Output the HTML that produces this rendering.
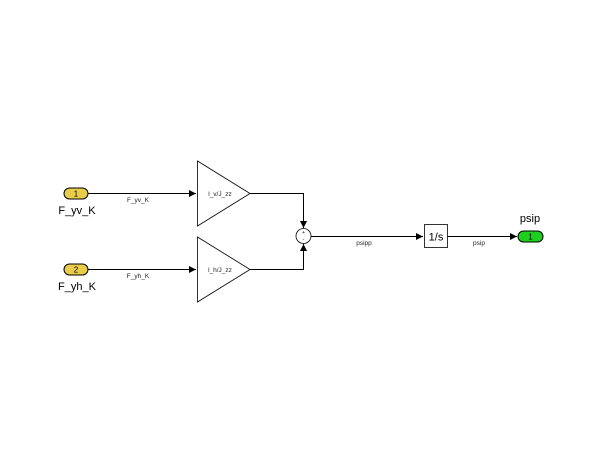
<!DOCTYPE html>
<html><head><style>body{margin:0;background:#fff}svg{display:block}</style></head><body>
<svg width="600" height="464" viewBox="0 0 600 464" xmlns="http://www.w3.org/2000/svg" font-family="Liberation Sans, sans-serif">
<defs><marker id="a" markerWidth="8" markerHeight="8" refX="7" refY="4" orient="auto" markerUnits="userSpaceOnUse"><path d="M0,0.5 L7,4 L0,7.5z" fill="#000"/></marker></defs>
<g stroke="#000" stroke-width="1" fill="none">
<rect x="64" y="188" width="24" height="11" rx="5.5" fill="#e8cc4a"/>
<rect x="64" y="264" width="24" height="11" rx="5.5" fill="#e8cc4a"/>
<line x1="88" y1="193.5" x2="196" y2="193.5" marker-end="url(#a)"/>
<line x1="88" y1="269.5" x2="196" y2="269.5" marker-end="url(#a)"/>
<path d="M197.5,161 L250,193.5 L197.5,226 Z" fill="#fff" stroke-width="0.8"/>
<path d="M197.5,237 L250,269.5 L197.5,302 Z" fill="#fff" stroke-width="0.8"/>
<polyline points="250,193.5 303.5,193.5 303.5,228" marker-end="url(#a)"/>
<polyline points="250,269.5 303.5,269.5 303.5,244" marker-end="url(#a)"/>
<circle cx="303.5" cy="236" r="7.5" fill="#fff" stroke-width="0.8"/>
<line x1="311" y1="236.5" x2="423" y2="236.5" marker-end="url(#a)"/>
<rect x="424.5" y="224.5" width="23" height="23" fill="#fff" stroke-width="0.8"/>
<line x1="447.5" y1="236.5" x2="517" y2="236.5" marker-end="url(#a)"/>
<rect x="518" y="231" width="25" height="11" rx="5.5" fill="#1ed01e"/>
</g>
<g font-size="8" text-anchor="middle">
<text x="76" y="196.5">1</text><text x="76" y="272.5">2</text><text x="530.5" y="239.5">1</text>
</g>
<g font-size="11" text-anchor="middle">
<text x="77" y="214">F_yv_K</text><text x="77" y="290">F_yh_K</text><text x="530" y="222">psip</text>
<text x="436" y="240.5">1/s</text>
</g>
<g font-size="6.5" text-anchor="middle" fill="#222">
<text x="138" y="202">F_yv_K</text><text x="138" y="278">F_yh_K</text>
<text x="364" y="245">psipp</text><text x="479" y="245">psip</text>
<text x="220" y="196">l_v/J_zz</text><text x="220" y="272">l_h/J_zz</text>
<text x="303.5" y="234" font-size="5">+</text><text x="303.5" y="241" font-size="5">-</text>
</g>
</svg>
</body></html>
